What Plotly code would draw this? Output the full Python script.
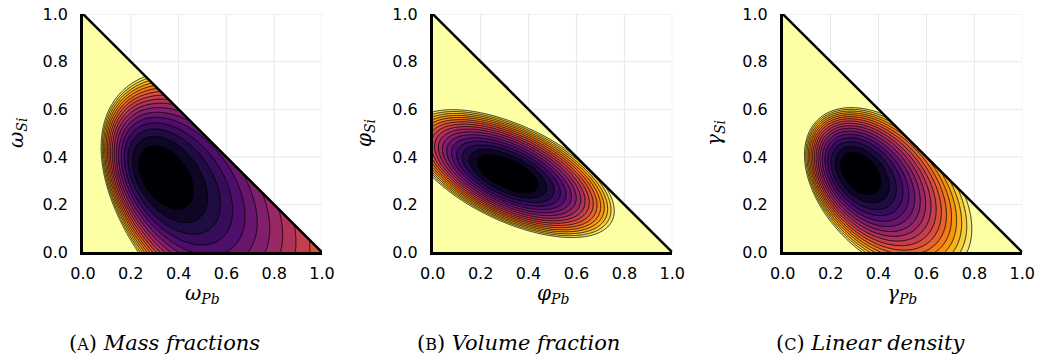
import numpy as np
import plotly.graph_objects as go

W, H = 1040, 362

letters = ["A", "B", "C"]
captions = ["Mass fractions", "Volume fraction", "Linear density"]
symbols = ["ω", "φ", "γ"]
tick_vals = [0.0, 0.2, 0.4, 0.6, 0.8, 1.0]
tick_text = ["0.0", "0.2", "0.4", "0.6", "0.8", "1.0"]

# contour levels of the misfit surfaces
level_count = 17
core_level = 0.09
level_step = (1 - core_level) / (level_count - 1)

# each surface: projective warp (a, b), centre in warped space, quadratic form (P11, P12, P22), minimum
warp_A = [2.90, -0.10]
centre_A = [0.17103, 0.16889]
form_A = [146.4726, 31.7057, 16.7323]
floor_A = 0.01950

warp_B = [0.20, 0.20]
centre_B = [0.27572, 0.29198]
form_B = [13.5728, 13.8927, 31.9923]
floor_B = 0.00144

warp_C = [1.30, -0.40]
centre_C = [0.24834, 0.26239]
form_C = [53.7572, 12.2322, 12.5012]
floor_C = 0.01675

surfaces = [(warp_A, centre_A, form_A, floor_A),
            (warp_B, centre_B, form_B, floor_B),
            (warp_C, centre_C, form_C, floor_C)]


def misfit(x, y, warp, centre, form, floor):
    d = 1 + warp[0] * x + warp[1] * y
    du = x / d - centre[0]
    dv = y / d - centre[1]
    return floor + form[0] * du * du + 2 * form[1] * du * dv + form[2] * dv * dv


grid = np.linspace(0, 0.997, 300)
GX, GY = np.meshgrid(grid, grid)

fig = go.Figure()
dom_x = [(83 / W, 322 / W), (432.7 / W, 672.3 / W), (782.7 / W, 1022.3 / W)]
dom_y = (1 - 252.3 / H, 1 - 14 / H)
for i, surf in enumerate(surfaces):
    q = np.clip(misfit(GX, GY, *surf), 0, 1.3)
    sfx = "" if i == 0 else str(i + 1)
    fig.add_trace(go.Contour(
        x=grid, y=grid, z=np.round(q, 4), xaxis="x" + sfx, yaxis="y" + sfx,
        colorscale="Inferno", autocontour=False,
        contours=dict(start=core_level, end=core_level + level_step * (level_count - 1) + 1e-9,
                      size=level_step, coloring="fill"),
        line=dict(color="black", width=0.8), showscale=False, hoverinfo="skip"))
    axis_common = dict(range=[0, 1], tickvals=tick_vals, ticktext=tick_text, showgrid=False, zeroline=False,
                       showline=True, linecolor="black", linewidth=2.5, ticks="outside",
                       automargin=False,
                       tickcolor="rgba(0,0,0,0)", tickfont=dict(family="DejaVu Sans", size=16, color="black"))
    fig.layout["xaxis" + sfx] = dict(axis_common, domain=dom_x[i], anchor="y" + sfx, ticklen=5)
    fig.layout["yaxis" + sfx] = dict(axis_common, domain=dom_y, anchor="x" + sfx, ticklen=9)
    xr, yr = "x" + sfx, "y" + sfx
    # white area above the simplex edge, with its grid
    fig.add_shape(type="path", path="M 0 1 L 1 0 L 1.05 0 L 1.05 1.05 L 0 1.05 Z", xref=xr, yref=yr,
                  fillcolor="white", line=dict(width=0), layer="above")
    for g in tick_vals[1:]:
        fig.add_shape(type="line", x0=g, x1=g, y0=1 - g, y1=1, xref=xr, yref=yr,
                      line=dict(color="#e8e8e8", width=1), layer="above")
        fig.add_shape(type="line", x0=1 - g, x1=1, y0=g, y1=g, xref=xr, yref=yr,
                      line=dict(color="#e8e8e8", width=1), layer="above")
    fig.add_shape(type="line", x0=0, y0=1, x1=1, y1=0, xref=xr, yref=yr,
                  line=dict(color="black", width=2.5), layer="above")
    cx = (dom_x[i][0] + dom_x[i][1]) / 2
    fig.add_annotation(x=cx, y=1 - 279 / H, xref="paper", yref="paper", showarrow=False,
                       xanchor="center", yanchor="top",
                       text=f"<i>{symbols[i]}</i><sub><i>Pb</i></sub>",
                       font=dict(family="DejaVu Serif", size=20, color="black"))
    fig.add_annotation(x=[17, 365, 715][i] / W, y=1 - 133 / H, xref="paper", yref="paper", showarrow=False,
                       xanchor="center", yanchor="middle",
                       textangle=-90, text=f"<i>{symbols[i]}</i><sub><i>Si</i></sub>",
                       font=dict(family="DejaVu Serif", size=20, color="black"))
    fig.add_annotation(x=[164, 518, 871][i] / W, y=1 - 343 / H, xref="paper", yref="paper", showarrow=False,
                       xanchor="center", yanchor="middle",
                       text=f"(<span style='font-size:16px'>{letters[i]}</span>) <i>{captions[i]}</i>",
                       font=dict(family="DejaVu Serif", size=21, color="black"))

fig.update_layout(template="none", width=W, height=H, margin=dict(l=0, r=0, t=0, b=0),
                  paper_bgcolor="white", plot_bgcolor="white", showlegend=False)
fig.write_html("out.html")
